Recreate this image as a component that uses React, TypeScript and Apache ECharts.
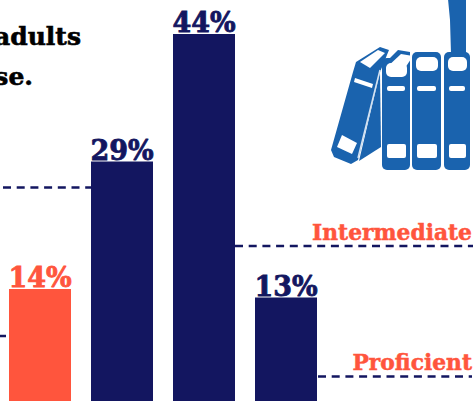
import React, { useEffect, useRef } from "react";
import * as echarts from "echarts";

const categories = ["Below Basic", "Basic", "Intermediate", "Proficient"];
const shares = [14, 29, 44, 13];
const highlighted = [true, false, false, false];

const belowBasicStub = [[0, 8.47], [6, 8.47]];
const basicLine = [[3, 25.94], [91, 25.94]];
const intermediateLine = [[235, 19.06], [473, 19.06]];
const proficientLine = [[318, 3.7], [472, 3.7]];

const NAVY = "#131660";
const ORANGE = "#ff553d";
const BLUE = "#1a63ae";
const SERIF = "'DejaVu Serif', serif";

// The reference is a crop of a larger chart: the drawing surface runs past the
// page on the left and at the bottom, and the wrapper clips it.
const OFFSET_X = 10;
const SURFACE_W = 484;
const SURFACE_H = 420;

function uprightBook(x: number, w: number, top: number): any[] {
  const page = { fill: "#ffffff" };
  return [
    { type: "rect", shape: { x, y: top, width: w, height: 170 - top, r: 5 }, style: { fill: BLUE } },
    { type: "rect", shape: { x: x + 4, y: top + 5, width: w - 7, height: 14, r: 5 }, style: page },
    { type: "rect", shape: { x: x + 5, y: 86, width: w - 10, height: 5, r: 2 }, style: page },
    { type: "rect", shape: { x: x + 5, y: 144, width: w - 9, height: 14, r: 2 }, style: page },
  ];
}

function bookIcon(): any[] {
  const white = { fill: "#ffffff" };
  const blue = { fill: BLUE };
  return [
    { type: "polygon", shape: { points: [[448, -1], [466, -1], [466, 53], [451, 54], [450, 20]] }, style: blue },
    { type: "polygon", shape: { points: [[356, 62], [380, 47], [389, 50], [380, 72], [358, 160], [351, 164], [334, 157], [331, 150], [353, 72]] }, style: blue },
    { type: "polygon", shape: { points: [[380, 72], [381, 147], [359, 161]] }, style: blue },
    { type: "polyline", shape: { points: [[380, 70], [358, 158]] }, style: { fill: "none", stroke: "#d5e3f2", lineWidth: 1.5 } },
    { type: "polygon", shape: { points: [[360, 62], [378, 50], [385, 53], [370, 68]] }, style: white },
    { type: "polygon", shape: { points: [[355, 78], [373, 84], [372, 88], [354, 82]] }, style: white },
    { type: "polygon", shape: { points: [[342, 135], [357, 143], [352, 154], [337, 147]] }, style: white },
    { type: "polygon", shape: { points: [[382, 66], [398, 50], [410, 52], [410, 70]] }, style: blue },
    ...uprightBook(382, 28, 58),
    { type: "polygon", shape: { points: [[386, 68], [401, 54], [413, 56], [403, 71]] }, style: white },
    ...uprightBook(412, 29, 52),
    ...uprightBook(444, 26, 52),
  ];
}

const dashed = (data: number[][]) => ({
  type: "line",
  xAxisIndex: 1,
  yAxisIndex: 1,
  data,
  symbol: "none",
  silent: true,
  lineStyle: { color: NAVY, width: 2.5, type: [8, 5.7] },
});

const heading = (text: string, x: number, y: number) => ({
  type: "text",
  x,
  y,
  style: {
    text,
    align: "right",
    fontFamily: SERIF,
    fontWeight: "bold",
    fontSize: 25,
    fill: "#000000",
    stroke: "#000000",
    lineWidth: 0.6,
  },
});

const levelLabel = (text: string, y: number) => ({
  type: "text",
  x: 472,
  y,
  style: {
    text,
    align: "right",
    fontFamily: SERIF,
    fontWeight: "bold",
    fontSize: 21.8,
    fill: ORANGE,
    stroke: ORANGE,
    lineWidth: 0.5,
  },
});

export default function App() {
  const ref = useRef<HTMLDivElement>(null);
  useEffect(() => {
    document.body.style.margin = "0";
    const chart = echarts.init(ref.current!, null, { renderer: "svg" });
    chart.setOption({
      animation: false,
      backgroundColor: "#ffffff",
      grid: [
        { left: OFFSET_X - 1, top: 0, width: 328, height: 408 },
        { left: OFFSET_X, top: 0, width: 474, height: 408 },
      ],
      xAxis: [
        { type: "category", gridIndex: 0, data: categories, show: false },
        { type: "value", gridIndex: 1, min: 0, max: 474, show: false },
      ],
      yAxis: [
        { type: "value", gridIndex: 0, min: 0, max: 48, show: false },
        { type: "value", gridIndex: 1, min: 0, max: 48, show: false },
      ],
      series: [
        {
          type: "bar",
          barWidth: 62,
          data: shares.map((v, i) => {
            const color = highlighted[i] ? ORANGE : NAVY;
            return {
              value: v,
              itemStyle: { color },
              label: { color, textBorderColor: color, textBorderWidth: 0.8 },
            };
          }),
          label: {
            show: true,
            position: "top",
            distance: -2,
            formatter: "{c}%",
            fontFamily: SERIF,
            fontWeight: "bold",
            fontSize: 27,
          },
        },
        dashed(belowBasicStub),
        dashed(basicLine),
        dashed(intermediateLine),
        dashed(proficientLine),
      ],
      graphic: [
        {
          type: "group",
          x: OFFSET_X,
          y: 0,
          children: [
            heading("adults", 81, 24),
            heading("se.", 33, 64),
            levelLabel("Intermediate", 221),
            levelLabel("Proficient", 351),
            ...bookIcon(),
          ],
        },
      ],
    });
    return () => chart.dispose();
  }, []);
  return (
    <div style={{ position: "relative", width: 474, height: 401, overflow: "hidden" }}>
      <div ref={ref} style={{ position: "absolute", left: -OFFSET_X, top: 0, width: SURFACE_W, height: SURFACE_H }} />
    </div>
  );
}
